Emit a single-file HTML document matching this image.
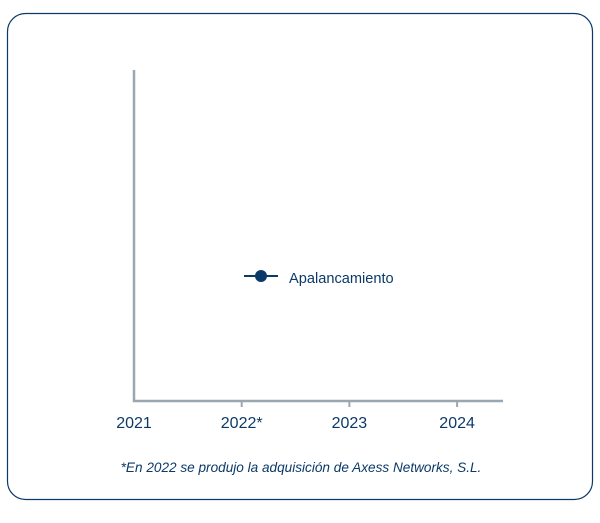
<!DOCTYPE html>
<html><head><meta charset="utf-8"><style>
body{margin:0;width:600px;height:518px;background:#fff;font-family:"Liberation Sans",sans-serif;}
</style></head><body>
<svg width="600" height="518">
<rect x="7.5" y="13.5" width="585" height="486" rx="18" fill="#fff" stroke="#0b3a68" stroke-width="1.2"/>
<g id="axes"></g>
<g>
<line x1="244" y1="276" x2="278" y2="276" stroke="#0b3a68" stroke-width="2"/>
<circle cx="261" cy="276" r="6" fill="#0b3a68"/>
<text x="289" y="283" font-size="14.6" fill="#0b3a68">Apalancamiento</text>
</g>
<text x="301" y="472" text-anchor="middle" font-size="13.6" font-style="italic" fill="#0b3a68">*En 2022 se produjo la adquisición de Axess Networks, S.L.</text>
</svg>
<script>
const categories=["2021","2022*","2023","2024"];
const apalancamiento=[];
const g=document.getElementById('axes');
const ns='http://www.w3.org/2000/svg';
const x0=134,step=107.7,yTop=70,yBase=401;
function xs(i){return x0+i*step;}
function mk(t,a){const e=document.createElementNS(ns,t);for(const k in a)e.setAttribute(k,a[k]);g.appendChild(e);return e;}
let ax=mk('polyline',{points:`${x0},${yTop} ${x0},${yBase} 503,${yBase}`,fill:'none',stroke:'#9aa7b3','stroke-width':2.5});


categories.forEach((c,i)=>{
 if(i>0){const t=mk('line',{x1:xs(i),x2:xs(i),y1:yBase,y2:yBase+6,stroke:'#9aa7b3','stroke-width':2});
 
 }
 const l=mk('text',{x:xs(i),y:428,'text-anchor':'middle','font-size':16,fill:'#0b3a68'});
 l.textContent=c;
 
 
});
</script>
</body></html>
